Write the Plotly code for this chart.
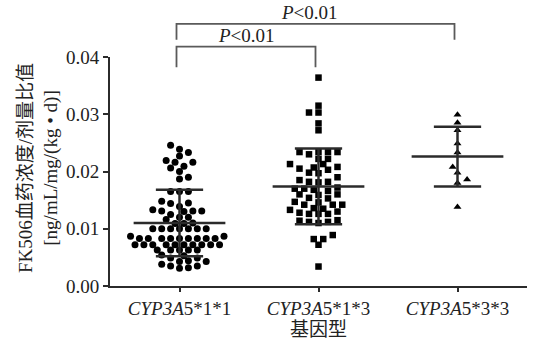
import math
import plotly.graph_objects as go

# ---------------- data ----------------
categories = ["<i>CYP3A</i>5*1*1", "<i>CYP3A</i>5*1*3", "<i>CYP3A</i>5*3*3"]

g11 = [0.0246, 0.0239, 0.0233, 0.0227, 0.0219, 0.0216, 0.0216, 0.0209, 0.0206, 0.0200,
       0.0190, 0.0187, 0.0165, 0.0165, 0.0165, 0.0148, 0.0145, 0.0144, 0.0139, 0.0133,
       0.0131, 0.0131, 0.0131, 0.0130, 0.0125, 0.0120, 0.0120, 0.0116, 0.0110, 0.0109,
       0.0109, 0.0100, 0.0100, 0.0100, 0.0100, 0.0100, 0.0100, 0.0100, 0.0087, 0.0087,
       0.0083, 0.0083, 0.0083, 0.0083, 0.0083, 0.0083, 0.0083, 0.0083, 0.0083,
       0.0072, 0.0072, 0.0072, 0.0072, 0.0072, 0.0072, 0.0072, 0.0072, 0.0072, 0.0072,
       0.0063, 0.0063, 0.0063, 0.0063, 0.0063, 0.0053, 0.0049, 0.0049, 0.0054,
       0.0043, 0.0038, 0.0035, 0.0031, 0.0032, 0.0035, 0.0043, 0.0044]

g13 = [0.0364, 0.0315, 0.0303, 0.0303, 0.0284, 0.0272,
       0.0234, 0.0234, 0.0234, 0.0234, 0.0230, 0.0222, 0.0222,
       0.0213, 0.0213, 0.0208, 0.0207, 0.0203, 0.0205, 0.0198, 0.0197, 0.0190,
       0.0185, 0.0181, 0.0182, 0.0182,
       0.0172, 0.0168, 0.0166, 0.0170, 0.0170,
       0.0160, 0.0159, 0.0160, 0.0154, 0.0153,
       0.0147, 0.0142, 0.0142, 0.0146, 0.0142,
       0.0136, 0.0133, 0.0135, 0.0128, 0.0126, 0.0130, 0.0126, 0.0126,
       0.0114, 0.0112, 0.0112, 0.0115, 0.0110,
       0.0089, 0.0082, 0.0082, 0.0072, 0.0034]

g33 = [0.0299, 0.0285, 0.0272, 0.0249, 0.0233, 0.0208, 0.0198, 0.0186, 0.0180, 0.0138]

means = [0.0110, 0.0174, 0.0226]
sds = [0.0058, 0.0066, 0.0052]

y_ticks = [0.00, 0.01, 0.02, 0.03, 0.04]
comparisons = [(0, 1), (0, 2)]
p_labels = ["<i>P</i>&lt;0.01", "<i>P</i>&lt;0.01"]

y_title = "FK506血药浓度/剂量比值<br>[ng/mL/mg/(kg • d)]"
x_title = "基因型"

# ---------------- layout constants ----------------
W, H = 538, 347
ML, MR, MT, MB = 110, 11, 57, 61
PLOT_W = W - ML - MR
PLOT_H = H - MT - MB
Y_MAX = 0.04
PX_PER_X = PLOT_W / 3.0
PX_PER_Y = PLOT_H / Y_MAX

FONT = "Liberation Serif, Times New Roman, Noto Sans CJK SC, serif"
INK = "#2b2b2b"
BRACKET = "#5a5a5a"


def swarm(values, step, dmin):
    """Grid beeswarm (GraphPad-like): offsets on a half-step grid, no overlap closer than dmin."""
    placed = []
    out = [0.0] * len(values)
    order = sorted(range(len(values)), key=lambda k: values[k])
    sign = 1
    half = step / 2.0
    for k in order:
        y = values[k] * PX_PER_Y
        chosen = 0.0
        for j in range(0, 60):
            found = False
            for c in ([0.0] if j == 0 else [sign * j * half, -sign * j * half]):
                if all((c - px) ** 2 + (y - py) ** 2 >= dmin * dmin - 1e-6 for px, py in placed):
                    chosen = c
                    found = True
                    break
            if found:
                break
        placed.append((chosen, y))
        out[k] = chosen / PX_PER_X
        if chosen != 0:
            sign = -sign
    return out


fig = go.Figure()

groups = [g11, g13, g33]
symbols = ["circle", "square", "triangle-up"]
sizes = [7, 6.5, 7]
steps = [8.9, 9.5, 9.6]
dmins = [6.4, 6.6, 6.8]

for i, (vals, sym, sz, st, dm) in enumerate(zip(groups, symbols, sizes, steps, dmins)):
    offs = swarm(vals, st, dm)
    fig.add_trace(go.Scatter(
        x=[i + o for o in offs], y=vals, mode="markers",
        marker=dict(symbol=sym, size=sz, color="black", line=dict(width=0)),
        showlegend=False, hoverinfo="y", cliponaxis=False,
    ))

# mean +/- SD lines
for i, (m, s) in enumerate(zip(means, sds)):
    xs = [i - 0.33, i + 0.33, None, i - 0.17, i + 0.17, None, i - 0.17, i + 0.17, None, i, i]
    ys = [m, m, None, m + s, m + s, None, m - s, m - s, None, m - s, m + s]
    fig.add_trace(go.Scatter(
        x=xs, y=ys, mode="lines", line=dict(color=INK, width=2.5),
        showlegend=False, hoverinfo="skip",
    ))

# significance brackets (paper coords so they can sit above the axis range)
bracket_levels = [(0.0418, 0.0382), (0.0458, 0.0430)]
shapes = []
annotations = []
for (a, b), (top, leg), lab in zip(comparisons, bracket_levels, p_labels):
    xa = (a + 0.5) / 3.0 - 3 / PLOT_W
    xb = (b + 0.5) / 3.0 - 3 / PLOT_W
    yt = top / Y_MAX
    yl = leg / Y_MAX
    shapes.append(dict(
        type="path", xref="paper", yref="paper",
        path=f"M {xa},{yl} L {xa},{yt} L {xb},{yt} L {xb},{yl}",
        line=dict(color=BRACKET, width=1.8),
    ))
    annotations.append(dict(
        x=(xa + xb) / 2, y=yt + 11.5 / PLOT_H, xref="paper", yref="paper",
        text=lab, showarrow=False, xanchor="center", yanchor="middle",
        xshift=-6 if b == 2 else 0,
        font=dict(family=FONT, size=19, color="#222"),
    ))

annotations.append(dict(
    x=(38 - ML) / PLOT_W, y=(H - MB - 168) / PLOT_H, xref="paper", yref="paper",
    text=y_title, showarrow=False, textangle=-90, xanchor="center", yanchor="middle",
    font=dict(family=FONT, size=19, color="#222"),
))

fig.update_layout(
    width=W, height=H,
    margin=dict(l=ML, r=MR, t=MT, b=MB, pad=0),
    paper_bgcolor="white", plot_bgcolor="white",
    font=dict(family=FONT, size=19, color="#222"),
    shapes=shapes, annotations=annotations,
    xaxis=dict(
        range=[-0.5, 2.5], tickmode="array", tickvals=[0, 1, 2], ticktext=categories,
        showline=True, linecolor=INK, linewidth=2, ticks="outside", ticklen=4,
        tickwidth=2, tickcolor=INK, showgrid=False, zeroline=False,
        tickfont=dict(family=FONT, size=19, color="#222"),
        title=dict(text=x_title, standoff=2, font=dict(family=FONT, size=19, color="#222")),
    ),
    yaxis=dict(
        range=[0, Y_MAX], tickmode="array", tickvals=y_ticks, tickformat=".2f",
        showline=True, linecolor=INK, linewidth=2, ticks="outside", ticklen=5,
        tickwidth=2, tickcolor=INK, showgrid=False, zeroline=False,
        tickfont=dict(family=FONT, size=19, color="#222"),
    ),
)

fig.write_html(
    "out.html",
    config={"displayModeBar": False},
    post_script="document.body.style.margin='0';document.body.style.padding='0';"
                "document.body.style.overflow='hidden';",
)
